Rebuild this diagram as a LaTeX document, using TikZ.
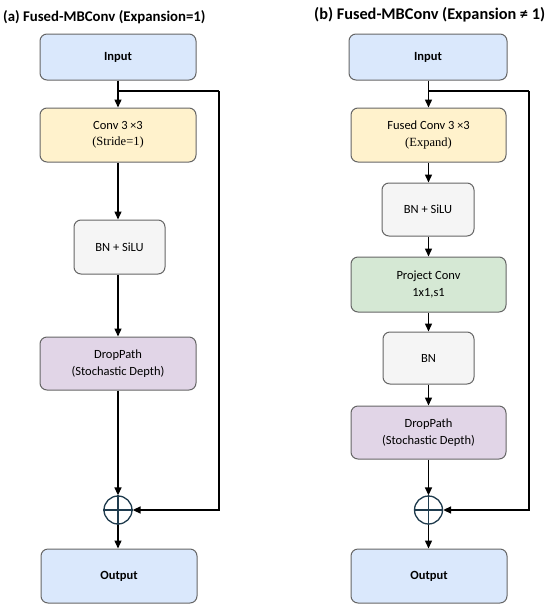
\documentclass[tikz,border=0pt]{standalone}
\usepackage{fontspec}
\setmainfont{Carlito}
\newfontfamily\serifp{Liberation Serif}
\usetikzlibrary{arrows.meta}
\definecolor{cblue}{HTML}{DAE8FC}
\definecolor{cyellow}{HTML}{FFF2CC}
\definecolor{cgray}{HTML}{F5F5F5}
\definecolor{cpurple}{HTML}{E1D5E7}
\definecolor{cgreen}{HTML}{D5E8D4}
\definecolor{cborder}{HTML}{666666}
\definecolor{cplus}{HTML}{1F3B4D}
\tikzset{
  blk/.style={draw=cborder, line width=1pt, rounded corners=7pt, align=center,
    inner sep=0pt, font=\fontsize{12.5}{16.5}\selectfont},
  wide/.style={blk, minimum width=156pt, minimum height=54pt},
  narrow/.style={blk, minimum width=91pt, minimum height=54pt},
  arr/.style={line width=1.4pt, -{Triangle[length=8pt,width=7pt]}},
  ln/.style={line width=1.4pt},
  plus/.style={circle, draw=cplus, fill=white, line width=1.3pt, minimum size=28pt, inner sep=0pt},
  ttl/.style={font=\fontsize{14.8}{16}\selectfont\bfseries, inner sep=0pt}
}
\begin{document}
\begin{tikzpicture}[x=1pt,y=-1pt]
\useasboundingbox (0,0) rectangle (550,611);
% titles
\node[ttl, anchor=west] (tA) at (3,17) {(a) Fused-MBConv (Expansion=1)};
\node[ttl, font=\fontsize{16.3}{18}\selectfont\bfseries, anchor=west] (tB) at (314,15) {(b) Fused-MBConv (Expansion ≠ 1)};
% left column
\node[wide, fill=cblue, minimum height=46pt] (inA) at (118,57) {\bfseries Input};
\node[wide, fill=cyellow] (convA) at (118,135) {Conv 3 {\large ×}3\\{\serifp (Stride=1)}};
\node[narrow, fill=cgray] (bnA) at (119.5,247) {BN + SiLU};
\node[wide, fill=cpurple, minimum height=53pt] (dpA) at (118,363.5) {DropPath\\(Stochastic Depth)};
\node[plus] (plA) at (118,510) {};
\node[wide, fill=cblue] (outA) at (119,576) {\bfseries Output};
\draw[cplus, line width=1.3pt] (plA.north) -- (plA.south) (plA.west) -- (plA.east);
\coordinate (brA) at (118,91);
\coordinate (skA) at (219,91);
\draw[arr] (inA.south) -- (convA.north);
\draw[ln] (brA) -- (skA);
\draw[arr] (skA) |- (plA.east);
\draw[arr] (convA.south) -- (convA.south |- bnA.north);
\draw[arr] (bnA.south -| convA.south) -- (dpA.north);
\draw[arr] (dpA.south) -- (plA.north);
\draw[arr] (plA.south) -- (plA.south |- outA.north);
% right column
\node[wide, fill=cblue, minimum height=46pt, minimum width=158pt] (inB) at (428,57) {\bfseries Input};
\node[wide, fill=cyellow, minimum width=155pt] (convB) at (428.5,135) {Fused Conv 3 {\large ×}3\\{\serifp (Expand)}};
\node[narrow, fill=cgray, minimum width=92pt, minimum height=53pt] (bnsB) at (428,209.5) {BN + SiLU};
\node[wide, fill=cgreen, minimum width=155pt, minimum height=55pt] (prB) at (428.5,284.5) {Project Conv\\1x1,s1};
\node[narrow, fill=cgray, minimum height=52pt] (bnB) at (428.5,358) {BN};
\node[wide, fill=cpurple, minimum width=155pt, minimum height=53pt] (dpB) at (428.5,432.5) {DropPath\\(Stochastic Depth)};
\node[plus] (plB) at (428.5,510) {};
\node[wide, fill=cblue] (outB) at (429,576) {\bfseries Output};
\draw[cplus, line width=1.3pt] (plB.north) -- (plB.south) (plB.west) -- (plB.east);
\coordinate (brB) at (428.5,91);
\coordinate (skB) at (529,91);
\draw[arr] (inB.south -| convB.north) -- (convB.north);
\draw[ln] (brB) -- (skB);
\draw[arr] (skB) |- (plB.east);
\draw[arr] (convB.south) -- (convB.south |- bnsB.north);
\draw[arr] (bnsB.south -| convB.south) -- (prB.north);
\draw[arr] (prB.south) -- (prB.south |- bnB.north);
\draw[arr] (bnB.south) -- (bnB.south -| dpB.north) -- (dpB.north);
\draw[arr] (dpB.south) -- (plB.north);
\draw[arr] (plB.south) -- (plB.south |- outB.north);
\end{tikzpicture}
\end{document}
